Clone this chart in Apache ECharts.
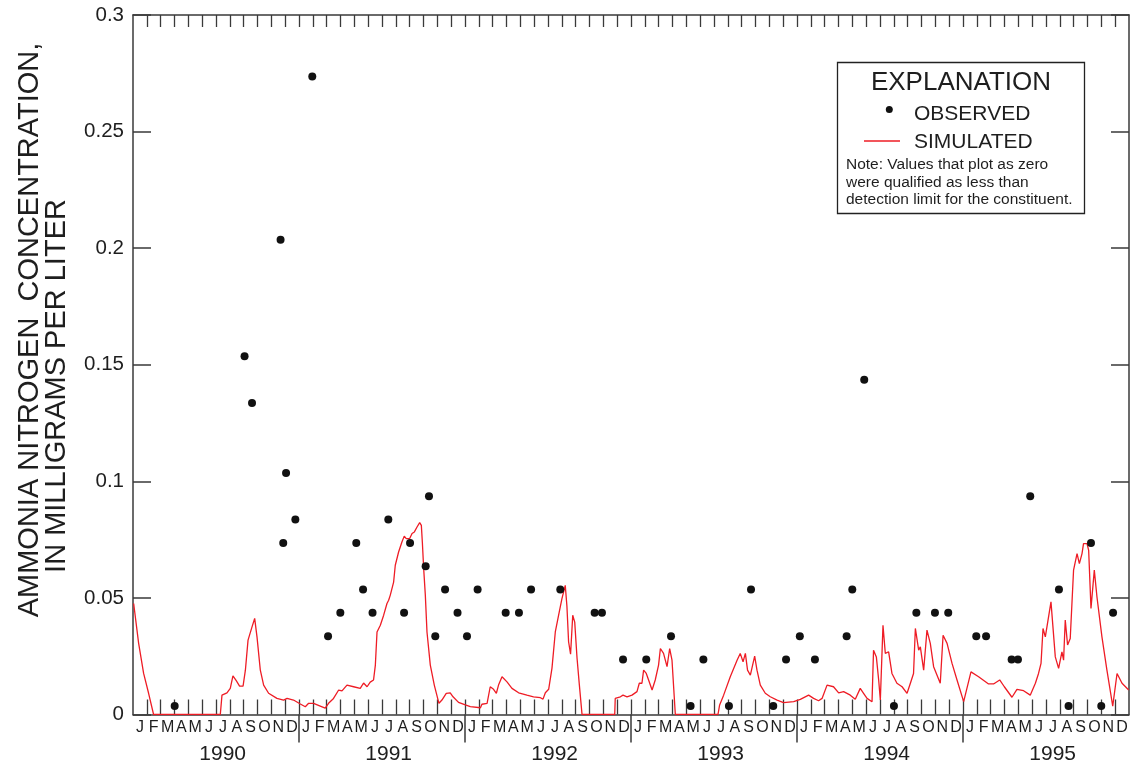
<!DOCTYPE html>
<html>
<head>
<meta charset="utf-8">
<script src="https://cdn.jsdelivr.net/npm/echarts@6/dist/echarts.min.js"></script>
<style>
html,body{margin:0;padding:0;background:#fff;}
#chart{width:1131px;height:766px;}
</style>
</head>
<body>
<div id="chart"></div>
<script>
// ---- DATA ----
const MONTH_LABELS = ['J','F','M','A','M','J','J','A','S','O','N','D'];
const YEAR_LABELS = ['1990','1991','1992','1993','1994','1995'];
const Y_TICKS = [0, 0.05, 0.1, 0.15, 0.2, 0.25, 0.3];

// observed samples: decimal year, concentration (mg/L)
const obsYear = [1990.251,1990.672,1990.717,1990.889,1990.905,1990.922,1990.978,1991.080,1991.175,1991.249,
  1991.345,1991.386,1991.443,1991.538,1991.633,1991.669,1991.763,1991.783,1991.821,1991.880,
  1991.955,1992.012,1992.076,1992.245,1992.325,1992.398,1992.574,1992.781,1992.825,1992.952,
  1993.092,1993.241,1993.359,1993.436,1993.590,1993.723,1993.857,1993.934,1994.017,1994.108,
  1994.299,1994.333,1994.405,1994.584,1994.719,1994.831,1994.911,1995.080,1995.139,1995.293,
  1995.331,1995.405,1995.578,1995.636,1995.771,1995.833,1995.904];
const obsValue = [0.0036,0.1536,0.1336,0.2036,0.0736,0.1036,0.0836,0.2736,0.0336,0.0436,
  0.0736,0.0536,0.0436,0.0836,0.0436,0.0736,0.0636,0.0936,0.0336,0.0536,
  0.0436,0.0336,0.0536,0.0436,0.0436,0.0536,0.0536,0.0436,0.0436,0.0236,
  0.0236,0.0336,0.0036,0.0236,0.0036,0.0536,0.0036,0.0236,0.0336,0.0236,
  0.0336,0.0536,0.1436,0.0036,0.0436,0.0436,0.0436,0.0336,0.0336,0.0236,
  0.0236,0.0936,0.0536,0.0036,0.0736,0.0036,0.0436];

// simulated: decimal year, concentration (mg/L)
const simYear = [1990.004,1990.034,1990.064,1990.094,1990.124,1990.526,1990.536,1990.566,1990.586,1990.602,
  1990.622,1990.642,1990.663,1990.677,1990.693,1990.717,1990.733,1990.747,1990.767,1990.787,
  1990.817,1990.867,1990.907,1990.928,1990.967,1991.008,1991.038,1991.058,1991.088,1991.128,
  1991.158,1991.178,1991.208,1991.239,1991.259,1991.289,1991.329,1991.369,1991.389,1991.410,
  1991.429,1991.449,1991.460,1991.470,1991.490,1991.510,1991.530,1991.540,1991.550,1991.570,
  1991.580,1991.600,1991.620,1991.634,1991.646,1991.666,1991.681,1991.695,1991.711,1991.727,
  1991.737,1991.743,1991.751,1991.761,1991.771,1991.791,1991.815,1991.843,1991.861,1991.887,
  1991.911,1991.928,1991.961,1992.002,1992.032,1992.093,1992.102,1992.133,1992.142,1992.152,
  1992.172,1992.189,1992.202,1992.223,1992.253,1992.283,1992.323,1992.373,1992.413,1992.454,
  1992.470,1992.484,1992.504,1992.524,1992.544,1992.564,1992.584,1992.604,1992.614,1992.624,
  1992.636,1992.649,1992.661,1992.675,1992.689,1992.705,1992.902,1992.905,1992.936,1992.952,
  1992.976,1993.006,1993.036,1993.050,1993.066,1993.076,1993.092,1993.106,1993.127,1993.146,
  1993.166,1993.177,1993.196,1993.217,1993.233,1993.247,1993.267,1993.524,1993.534,1993.558,
  1993.598,1993.639,1993.658,1993.675,1993.689,1993.702,1993.719,1993.745,1993.759,1993.779,
  1993.809,1993.839,1993.880,1993.919,1993.980,1994.020,1994.070,1994.100,1994.130,1994.151,
  1994.181,1994.220,1994.251,1994.281,1994.321,1994.351,1994.381,1994.401,1994.422,1994.452,
  1994.461,1994.478,1994.492,1994.502,1994.518,1994.532,1994.552,1994.572,1994.602,1994.633,
  1994.663,1994.683,1994.702,1994.713,1994.733,1994.743,1994.763,1994.783,1994.803,1994.823,
  1994.863,1994.880,1994.904,1994.934,1994.964,1995.004,1995.048,1995.094,1995.154,1995.184,
  1995.221,1995.249,1995.295,1995.325,1995.365,1995.405,1995.436,1995.455,1995.470,1995.482,
  1995.496,1995.530,1995.556,1995.576,1995.596,1995.606,1995.616,1995.630,1995.646,1995.666,
  1995.687,1995.701,1995.717,1995.726,1995.747,1995.757,1995.771,1995.791,1995.807,1995.837,
  1995.867,1995.902,1995.928,1995.958,1995.998];
const simValue = [0.0476,0.0305,0.0176,0.0091,0,0,0.0083,0.0093,0.0112,0.0166,
  0.0145,0.0122,0.0122,0.0190,0.0319,0.0376,0.0412,0.0333,0.0190,0.0126,
  0.0091,0.0069,0.0062,0.0069,0.0062,0.0045,0.0033,0.0048,0.0048,0.0036,
  0.0027,0.0048,0.0069,0.0105,0.0101,0.0126,0.0119,0.0112,0.0135,0.0119,
  0.0139,0.0148,0.0212,0.0354,0.0383,0.0426,0.0476,0.0490,0.0512,0.0568,
  0.0640,0.0697,0.0740,0.0765,0.0754,0.0754,0.0776,0.0783,0.0804,0.0823,
  0.0811,0.0740,0.0626,0.0512,0.0354,0.0212,0.0126,0.0048,0.0062,0.0091,
  0.0093,0.0076,0.0052,0.0041,0.0034,0.0029,0.0044,0.0048,0.0041,0.0119,
  0.0108,0.0091,0.0126,0.0162,0.0140,0.0112,0.0093,0.0083,0.0076,0.0072,
  0.0066,0.0093,0.0108,0.0199,0.0354,0.0426,0.0497,0.0554,0.0464,0.0312,
  0.0259,0.0426,0.0396,0.0241,0.0126,0,0,0.0069,0.0076,0.0083,
  0.0076,0.0083,0.0098,0.0134,0.0134,0.0190,0.0176,0.0148,0.0105,0.0148,
  0.0212,0.0283,0.0262,0.0205,0.0283,0.0233,0,0,0.0041,0.0083,
  0.0162,0.0233,0.0262,0.0226,0.0262,0.0190,0.0169,0.0250,0.0190,0.0126,
  0.0091,0.0076,0.0062,0.0051,0.0055,0.0065,0.0083,0.0069,0.0059,0.0069,
  0.0126,0.0119,0.0093,0.0098,0.0083,0.0065,0.0112,0.0091,0.0069,0.0055,
  0.0276,0.0247,0.0148,0.0062,0.0383,0.0262,0.0269,0.0176,0.0134,0.0119,
  0.0091,0.0134,0.0176,0.0369,0.0276,0.0290,0.0190,0.0362,0.0305,0.0205,
  0.0134,0.0340,0.0305,0.0219,0.0148,0.0055,0.0183,0.0162,0.0131,0.0131,
  0.0148,0.0119,0.0074,0.0108,0.0102,0.0083,0.0134,0.0176,0.0219,0.0369,
  0.0333,0.0483,0.0247,0.0198,0.0269,0.0233,0.0405,0.0298,0.0326,0.0619,
  0.0690,0.0647,0.0690,0.0733,0.0733,0.0704,0.0455,0.0619,0.0504,0.0333,
  0.0190,0.0036,0.0176,0.0134,0.0105];

// ---- CHART ----
const START = 1990, END = 1996;
const monthTicks = [], monthMids = [], yearTicks = [], yearMids = [];
for (let i = 1; i < 72; i++) monthTicks.push(START + i / 12);
for (let i = 0; i < 72; i++) monthMids.push(START + (i + 0.5) / 12);
for (let i = 1; i < YEAR_LABELS.length; i++) yearTicks.push(START + i);
for (let i = 0; i < YEAR_LABELS.length; i++) yearMids.push(START + i + 0.54);

const AX = '#3a3a3a', TXT = '#1e1e1e';
const FONT = '"Liberation Sans", Arial, Helvetica, sans-serif';

const chart = echarts.init(document.getElementById('chart'), null, {renderer: 'canvas'});
const option = {
  animation: false,
  backgroundColor: '#fff',
  textStyle: {fontFamily: FONT},
  grid: {left: 133, right: 2, top: 15, bottom: 51.5, containLabel: false},
  xAxis: [
    {
      type: 'value', min: START, max: END, position: 'bottom',
      axisLine: {show: true, onZero: false, lineStyle: {color: AX, width: 1.5}},
      axisTick: {show: true, inside: true, length: 15, customValues: monthTicks, lineStyle: {color: AX, width: 1.3}},
      axisLabel: {show: true, customValues: monthMids, margin: 5, fontSize: 16, color: TXT, fontFamily: FONT,
        formatter: v => MONTH_LABELS[((Math.round((v - START) * 12 - 0.5)) % 12 + 12) % 12]},
      splitLine: {show: false}
    },
    {
      type: 'value', min: START, max: END, position: 'bottom',
      axisLine: {show: false},
      axisTick: {show: true, inside: false, length: 28, customValues: yearTicks, lineStyle: {color: AX, width: 1.5}},
      axisLabel: {show: true, customValues: yearMids, margin: 29, fontSize: 21, color: TXT, fontFamily: FONT,
        formatter: v => YEAR_LABELS[Math.floor(v - START)]},
      splitLine: {show: false}
    },
    {
      type: 'value', min: START, max: END, position: 'top',
      axisLine: {show: true, onZero: false, lineStyle: {color: AX, width: 1.5}},
      axisTick: {show: true, inside: true, length: 12, customValues: monthTicks, lineStyle: {color: AX, width: 1.3}},
      axisLabel: {show: false},
      splitLine: {show: false}
    }
  ],
  yAxis: [
    {
      type: 'value', min: 0, max: 0.3, interval: 0.05, position: 'left',
      axisLine: {show: true, onZero: false, lineStyle: {color: AX, width: 1.5}},
      axisTick: {show: true, inside: true, length: 18, lineStyle: {color: AX, width: 1.5}},
      axisLabel: {show: true, margin: 9, fontSize: 20.5, color: TXT, fontFamily: FONT,
        formatter: v => String(Y_TICKS[Math.round(v / 0.05)])},
      splitLine: {show: false}
    },
    {
      type: 'value', min: 0, max: 0.3, interval: 0.05, position: 'right',
      axisLine: {show: true, onZero: false, lineStyle: {color: AX, width: 1.5}},
      axisTick: {show: true, inside: true, length: 18, lineStyle: {color: AX, width: 1.5}},
      axisLabel: {show: false},
      splitLine: {show: false}
    }
  ],
  series: [
    {
      name: 'SIMULATED', type: 'line', xAxisIndex: 0, yAxisIndex: 0,
      data: simYear.map((t, i) => [t, simValue[i]]),
      showSymbol: false, symbol: 'none',
      lineStyle: {color: '#ee1c25', width: 1.3},
      z: 2
    },
    {
      name: 'OBSERVED', type: 'scatter', xAxisIndex: 0, yAxisIndex: 0,
      data: obsYear.map((t, i) => [t, obsValue[i]]),
      symbol: 'circle', symbolSize: 8,
      itemStyle: {color: '#111', opacity: 1},
      z: 3
    }
  ],
  graphic: [
    {type: 'text', x: 30, y: 330, rotation: Math.PI / 2,
      style: {text: 'AMMONIA NITROGEN  CONCENTRATION,', font: '29px ' + FONT, fill: TXT, align: 'center', verticalAlign: 'middle'}},
    {type: 'text', x: 57, y: 386, rotation: Math.PI / 2,
      style: {text: 'IN MILLIGRAMS PER LITER', font: '29px ' + FONT, fill: TXT, align: 'center', verticalAlign: 'middle'}},
    {type: 'rect', shape: {x: 837.5, y: 62.5, width: 247, height: 151},
      style: {fill: '#fff', stroke: '#222', lineWidth: 1.3}, z: 10},
    {type: 'text', x: 961, y: 82.5, z: 11,
      style: {text: 'EXPLANATION', font: '26px ' + FONT, fill: TXT, align: 'center', verticalAlign: 'middle'}},
    {type: 'circle', shape: {cx: 889.3, cy: 109.5, r: 3.5}, style: {fill: '#111'}, z: 11},
    {type: 'text', x: 914, y: 114, z: 11,
      style: {text: 'OBSERVED', font: '21px ' + FONT, fill: TXT, align: 'left', verticalAlign: 'middle'}},
    {type: 'line', shape: {x1: 864, y1: 141, x2: 900, y2: 141}, style: {stroke: '#ee1c25', lineWidth: 1.3}, z: 11},
    {type: 'text', x: 914, y: 142, z: 11,
      style: {text: 'SIMULATED', font: '21px ' + FONT, fill: TXT, align: 'left', verticalAlign: 'middle'}},
    {type: 'text', x: 846, y: 165, z: 11,
      style: {text: 'Note: Values that plot as zero', font: '15.5px ' + FONT, fill: TXT, align: 'left', verticalAlign: 'middle'}},
    {type: 'text', x: 846, y: 182.5, z: 11,
      style: {text: 'were qualified as less than', font: '15.5px ' + FONT, fill: TXT, align: 'left', verticalAlign: 'middle'}},
    {type: 'text', x: 846, y: 200, z: 11,
      style: {text: 'detection limit for the constituent.', font: '15.5px ' + FONT, fill: TXT, align: 'left', verticalAlign: 'middle'}}
  ]
};
chart.setOption(option);
</script>
</body>
</html>
